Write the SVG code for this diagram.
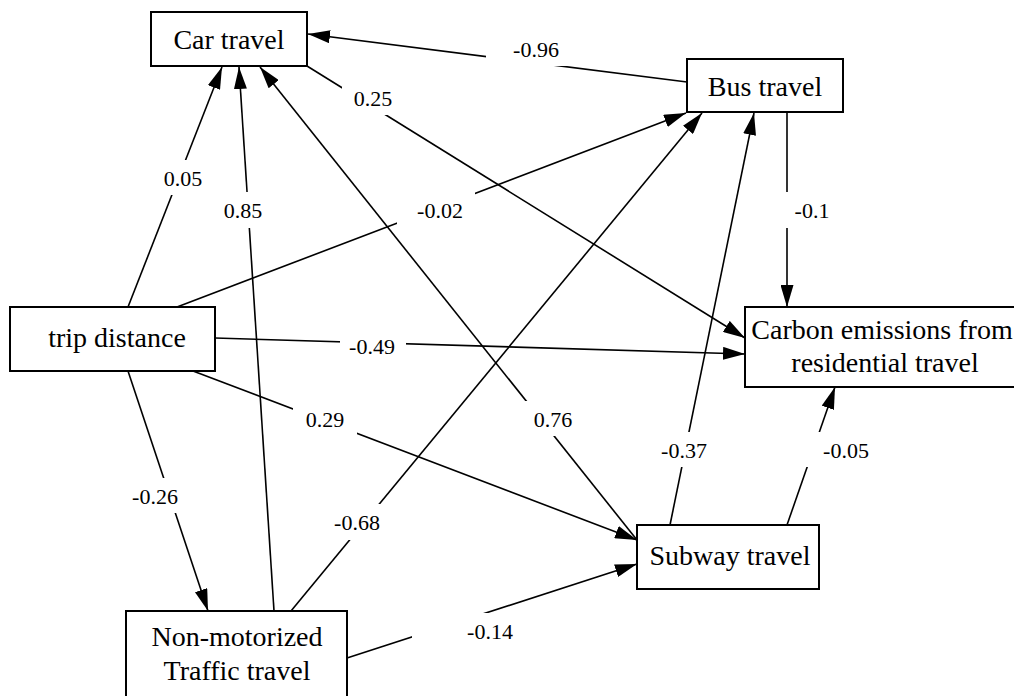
<svg xmlns="http://www.w3.org/2000/svg" width="1014" height="696" viewBox="0 0 1014 696">
<style>
.node rect{fill:#fff;stroke:#000;stroke-width:2}
.node text{font-family:"Liberation Serif","Times New Roman",serif;font-size:28px;fill:#000;text-anchor:middle}
.edge line{stroke:#000;stroke-width:1.6;fill:none;marker-end:url(#ah)}
.lbl rect{fill:#fff;stroke:none}
.lbl text{font-family:"Liberation Serif","Times New Roman",serif;font-size:22px;fill:#000;text-anchor:middle}
</style>
<defs>
<marker id="ah" viewBox="0 0 22 13" refX="22" refY="6.5" markerWidth="22" markerHeight="13" markerUnits="userSpaceOnUse" orient="auto">
<path d="M0,0 L22,6.5 L0,13 z" fill="#000"/>
</marker>
</defs>
<rect width="1014" height="696" fill="#fff"/>
<g id="connectors">
<g class="edge">
<line x1="687" y1="82" x2="308" y2="34"/>
<line x1="307" y1="66" x2="745" y2="338"/>
<line x1="128" y1="307" x2="222" y2="67"/>
<line x1="274" y1="611" x2="239" y2="67"/>
<line x1="637" y1="540" x2="260" y2="67"/>
<line x1="177" y1="307" x2="686" y2="113"/>
<line x1="291" y1="611" x2="702" y2="113"/>
<line x1="670" y1="525" x2="754" y2="113"/>
<line x1="787" y1="112" x2="787" y2="307"/>
<line x1="215" y1="338" x2="745" y2="354"/>
<line x1="193" y1="371" x2="637" y2="540"/>
<line x1="128" y1="371" x2="208" y2="611"/>
<line x1="347" y1="658" x2="637" y2="564"/>
<line x1="787" y1="525" x2="835" y2="387"/>
</g>
<g class="lbl" font-family="'Liberation Serif', 'Times New Roman', serif" font-size="22">
<rect x="486" y="31" width="98" height="35"/><text x="536" y="57" font-family="Liberation Serif, serif">-0.96</text>
<rect x="342" y="80" width="62" height="35"/><text x="373" y="106" font-family="Liberation Serif, serif">0.25</text>
<rect x="152" y="160" width="62" height="35"/><text x="183" y="186" font-family="Liberation Serif, serif">0.05</text>
<rect x="212" y="192" width="62" height="36"/><text x="243" y="218" font-family="Liberation Serif, serif">0.85</text>
<rect x="397" y="192" width="78" height="36"/><text x="440" y="218" font-family="Liberation Serif, serif">-0.02</text>
<rect x="784" y="192" width="56" height="36"/><text x="812" y="218" font-family="Liberation Serif, serif">-0.1</text>
<rect x="340" y="328" width="66" height="35"/><text x="372" y="354" font-family="Liberation Serif, serif">-0.49</text>
<rect x="293" y="401" width="64" height="35"/><text x="325" y="427" font-family="Liberation Serif, serif">0.29</text>
<rect x="522" y="401" width="62" height="35"/><text x="553" y="427" font-family="Liberation Serif, serif">0.76</text>
<rect x="328" y="504" width="60" height="36"/><text x="357" y="530" font-family="Liberation Serif, serif">-0.68</text>
<rect x="654" y="432" width="64" height="35"/><text x="684" y="458" font-family="Liberation Serif, serif">-0.37</text>
<rect x="804" y="432" width="76" height="35"/><text x="846" y="458" font-family="Liberation Serif, serif">-0.05</text>
<rect x="124" y="478" width="62" height="35"/><text x="155" y="504" font-family="Liberation Serif, serif">-0.26</text>
<rect x="412" y="613" width="112" height="35"/><text x="490" y="639" font-family="Liberation Serif, serif">-0.14</text>
</g>
</g>
<g id="car" class="node"><rect x="151" y="12" width="156" height="54"/><text x="229" y="48.5">Car travel</text></g>
<g id="bus" class="node"><rect x="687" y="59" width="156" height="53"/><text x="765" y="95.5">Bus travel</text></g>
<g id="carbon" class="node"><rect x="745" y="307" width="281" height="80"/><text x="882" y="339">Carbon emissions from</text><text x="885" y="372">residential travel</text></g>
<g id="trip" class="node"><rect x="10" y="307" width="205" height="64"/><text x="117" y="347">trip distance</text></g>
<g id="subway" class="node"><rect x="637" y="525" width="182" height="64"/><text x="730" y="565">Subway travel</text></g>
<g id="nonmotor" class="node"><rect x="126" y="611" width="221" height="92"/><text x="237" y="646">Non-motorized</text><text x="237" y="680">Traffic travel</text></g>
</svg>
